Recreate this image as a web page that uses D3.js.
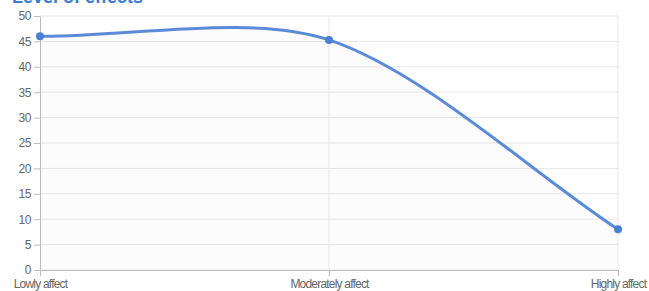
<!DOCTYPE html>
<html>
<head>
<meta charset="utf-8">
<script src="https://cdn.jsdelivr.net/npm/d3@7"></script>
<style>
  body { margin: 0; background: #fff; }
  svg text { font-family: "Liberation Sans", Arial, sans-serif; }
</style>
</head>
<body>
<div id="chart"></div>
<script>
// chart data
const categories = ["Lowly affect", "Moderately affect", "Highly affect"];
const values = [46, 45.3, 8];
const yTicks = [0, 5, 10, 15, 20, 25, 30, 35, 40, 45, 50];
const titleText = "Level of effects";

let margin = { top: 16, right: 31, bottom: 21, left: 40 },
  width = 649 - margin.left - margin.right,
  height = 291 - margin.top - margin.bottom;

let root = d3
  .select("#chart")
  .append("svg")
  .attr("width", 649)
  .attr("height", 291);

// title, mostly cut off at top edge
root
  .append("text")
  .attr("x", 12)
  .attr("y", 3)
  .attr("fill", "#3d7bd0")
  .style("font-weight", "bold")
  .style("font-size", "18px")
  .text(titleText);

let svg = root
  .append("g")
  .attr("transform", "translate(" + margin.left + "," + margin.top + ")");

let x = d3.scalePoint().domain(categories).range([0, width]);
let y = d3.scaleLinear().domain([0, 50]).range([height, 0]);

// horizontal grid
svg
  .append("g")
  .selectAll("line")
  .data(yTicks)
  .join("line")
  .attr("x1", 0)
  .attr("x2", width)
  .attr("y1", (d) => y(d))
  .attr("y2", (d) => y(d))
  .attr("stroke", "#e6e6e6")
  .attr("stroke-width", 1);

// vertical grid
svg
  .append("g")
  .selectAll("line")
  .data(categories.slice(1))
  .join("line")
  .attr("x1", (d) => x(d))
  .attr("x2", (d) => x(d))
  .attr("y1", 0)
  .attr("y2", height + 6)
  .attr("stroke", "#e9e9e9")
  .attr("stroke-width", 1);

// chart.js style spline
const pts = categories.map((c, i) => [x(c), y(values[i])]);
function splinePath(points, close) {
  const t = 0.3;
  const ctrl = points.map((p, i) => {
    const prev = points[i - 1] || p;
    const next = points[i + 1] || p;
    const d01 = Math.hypot(p[0] - prev[0], p[1] - prev[1]);
    const d12 = Math.hypot(next[0] - p[0], next[1] - p[1]);
    let fa = (t * d01) / (d01 + d12);
    let fb = (t * d12) / (d01 + d12);
    if (isNaN(fa)) fa = 0;
    if (isNaN(fb)) fb = 0;
    return {
      prev: [p[0] - fa * (next[0] - prev[0]), p[1] - fa * (next[1] - prev[1])],
      next: [p[0] + fb * (next[0] - prev[0]), p[1] + fb * (next[1] - prev[1])],
    };
  });
  const path = d3.path();
  path.moveTo(points[0][0], points[0][1]);
  for (let i = 1; i < points.length; i++) {
    const a = ctrl[i - 1].next;
    const b = ctrl[i].prev;
    path.bezierCurveTo(a[0], a[1], b[0], b[1], points[i][0], points[i][1]);
  }
  if (close) {
    path.lineTo(points[points.length - 1][0], y(0));
    path.lineTo(points[0][0], y(0));
    path.closePath();
  }
  return path.toString();
}

// light fill under the line
svg
  .append("path")
  .attr("d", splinePath(pts, true))
  .attr("fill", "rgba(0,0,0,0.012)");

// axes
const yAxis = svg
  .append("g")
  .call(d3.axisLeft(y).tickValues(yTicks).tickSize(6).tickPadding(3));
const xAxis = svg
  .append("g")
  .attr("transform", "translate(0," + height + ")")
  .call(d3.axisBottom(x).tickSize(6).tickPadding(5));

[yAxis, xAxis].forEach((g) => {
  g.select(".domain").attr("stroke", "#bdbdbd");
  g.selectAll(".tick line").attr("stroke", "#bdbdbd");
  g.selectAll("text")
    .attr("fill", "#666")
    .style("font-size", "12px")
    .style("letter-spacing", "-0.8px");
});
yAxis.selectAll("text").style("letter-spacing", "-0.4px");
xAxis.selectAll("text").attr("dy", "0.6em");

// line
svg
  .append("path")
  .attr("d", splinePath(pts, false))
  .attr("fill", "none")
  .attr("stroke", "#5b8bd8")
  .attr("stroke-width", 3);

// points
svg
  .append("g")
  .selectAll("circle")
  .data(values)
  .join("circle")
  .attr("cx", (d, i) => x(categories[i]))
  .attr("cy", (d) => y(d))
  .attr("r", 4)
  .attr("fill", "#4a7fd4");
</script>
</body>
</html>
